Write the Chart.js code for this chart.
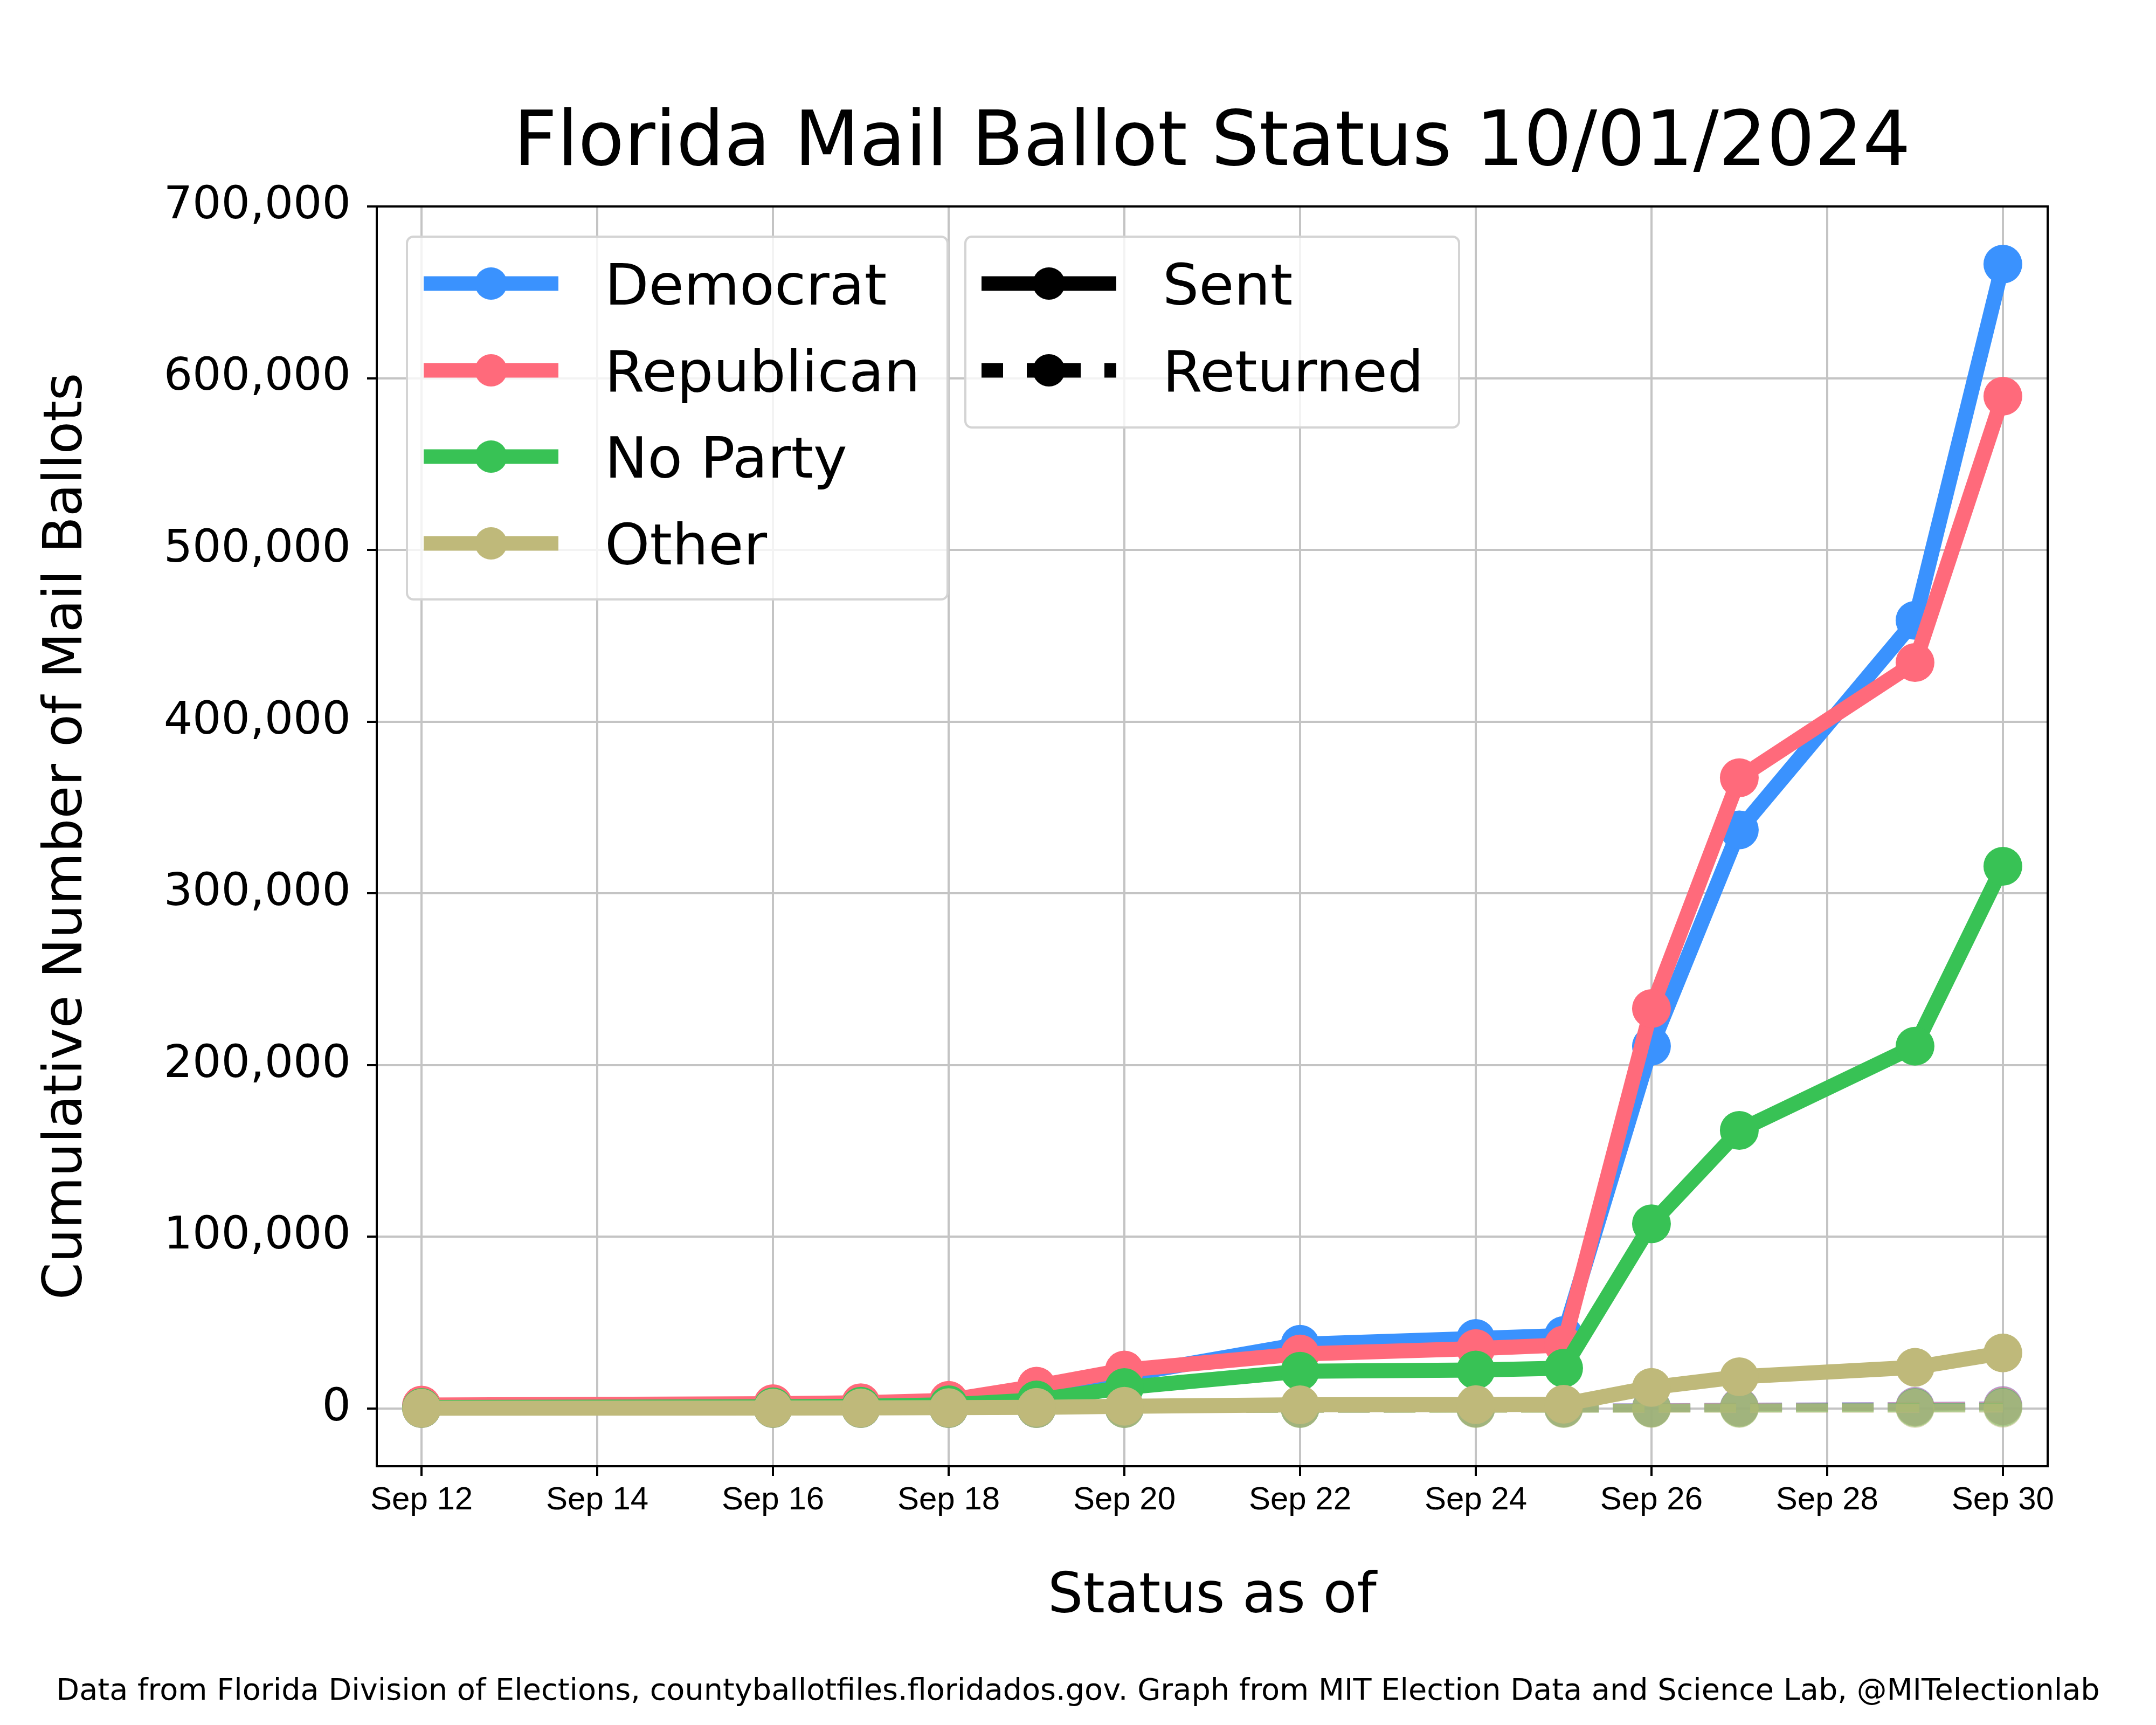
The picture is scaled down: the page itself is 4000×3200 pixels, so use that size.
<!DOCTYPE html>
<html lang="en">
<head>
<meta charset="UTF-8">
<title>Florida Mail Ballot Status 10/01/2024</title>
<script src="https://cdn.jsdelivr.net/npm/chart.js@4.4.1/dist/chart.umd.min.js"></script>
<style>
    html, body { margin: 0; padding: 0; background: #fff; }
    #wrap { width: 4000px; height: 3200px; }
</style>
</head>
<body>
<div id="wrap"><canvas id="ballots" width="4000" height="3200"></canvas></div>
<script>
// Days of September that have a status file
const days = [12, 16, 17, 18, 19, 20, 22, 24, 25, 26, 27, 29, 30];

// Sent (cumulative)
const demSent = [1500, 2300, 2900, 4200, 10000, 19500, 37400, 40800, 42500, 211000, 337000, 459000, 666400];
const repSent = [2000, 2800, 3400, 4800, 13000, 22400, 31800, 34900, 37000, 232900, 367300, 434400, 589500];
const npaSent = [600, 1000, 1300, 2200, 5000, 12200, 21700, 22400, 23500, 107600, 162000, 211000, 315800];
const othSent = [200, 300, 400, 500, 700, 1300, 2200, 2300, 2500, 12300, 18500, 24000, 32400];

// Returned (cumulative)
const demRet = [0, 0, 0, 0, 0, 100, 200, 300, 400, 600, 900, 1300, 1800];
const repRet = [0, 0, 0, 0, 0, 100, 200, 300, 400, 500, 800, 1200, 1600];
const npaRet = [0, 0, 0, 0, 0, 0, 100, 200, 200, 300, 400, 600, 800];
const othRet = [0, 0, 0, 0, 0, 0, 0, 0, 0, 100, 100, 100, 200];

const parties = ['Democrat', 'Republican', 'No Party', 'Other'];
const colors = ['#3a92fe', '#ff6a7b', '#38c255', '#bfb97a'];
const fadedColors = ['rgba(58,146,254,0.55)', 'rgba(255,106,123,0.55)', 'rgba(56,194,85,0.55)', 'rgba(191,185,122,0.55)'];
const xTicks = [12, 14, 16, 18, 20, 22, 24, 26, 28, 30];
const yTicks = [0, 100000, 200000, 300000, 400000, 500000, 600000, 700000];

const titleText = 'Florida Mail Ballot Status 10/01/2024';
const footerText = 'Data from Florida Division of Elections, countyballotfiles.floridados.gov. Graph from MIT Election Data and Science Lab, @MITelectionlab';

function series(label, values, color, order, returned) {
    return {
        label: label,
        data: days.map((d, i) => ({ x: d, y: values[i] })),
        borderColor: color,
        backgroundColor: color,
        pointBackgroundColor: color,
        pointBorderWidth: 0,
        pointRadius: 36,
        pointHoverRadius: 36,
        borderWidth: returned ? 16 : 28,
        borderDash: returned ? [59, 26] : [],
        borderJoinStyle: 'round',
        tension: 0,
        order: order
    };
}

// first dataset in Chart.js is painted on top, so "order" puts Other sent on top
const datasets = [
    series('Democrat sent', demSent, colors[0], 3, false),
    series('Republican sent', repSent, colors[1], 2, false),
    series('No Party sent', npaSent, colors[2], 1, false),
    series('Other sent', othSent, colors[3], 0, false),
    series('Democrat returned', demRet, fadedColors[0], 7, true),
    series('Republican returned', repRet, fadedColors[1], 6, true),
    series('No Party returned', npaRet, fadedColors[2], 5, true),
    series('Other returned', othRet, fadedColors[3], 4, true)
];

function legendBox(ctx, x, y, w, h) {
    ctx.beginPath();
    ctx.roundRect(x, y, w, h, 12);
    ctx.fillStyle = 'rgba(255,255,255,0.8)';
    ctx.fill();
    ctx.strokeStyle = '#d4d4d4';
    ctx.lineWidth = 4;
    ctx.stroke();
}

function legendEntry(ctx, x0, cy, label, color, dashed) {
    ctx.strokeStyle = color;
    ctx.lineWidth = 27;
    ctx.setLineDash(dashed ? [100, 44] : []);
    ctx.lineDashOffset = dashed ? 60 : 0;
    ctx.beginPath();
    ctx.moveTo(x0, cy);
    ctx.lineTo(x0 + 250, cy);
    ctx.stroke();
    ctx.setLineDash([]);
    ctx.fillStyle = color;
    ctx.beginPath();
    ctx.arc(x0 + 125, cy, 30, 0, Math.PI * 2);
    ctx.fill();
    ctx.fillStyle = '#000';
    ctx.font = '106px "DejaVu Sans"';
    ctx.textAlign = 'left';
    ctx.textBaseline = 'alphabetic';
    ctx.fillText(label, x0 + 336, cy + 39);
}

const decorations = {
    id: 'decorations',
    afterDraw(chart) {
        const ctx = chart.ctx;
        const a = chart.chartArea;
        ctx.save();
        // axes frame
        ctx.strokeStyle = '#000';
        ctx.lineWidth = 4;
        ctx.strokeRect(a.left, a.top, a.right - a.left, a.bottom - a.top);

        // title and footer
        ctx.fillStyle = '#000';
        ctx.textAlign = 'center';
        ctx.textBaseline = 'alphabetic';
        ctx.font = '140px "DejaVu Sans"';
        ctx.fillText(titleText, (a.left + a.right) / 2, 306);
        ctx.font = '58px "DejaVu Sans"';
        const fw = ctx.measureText(footerText).width;
        ctx.font = (58 * 3793 / fw).toFixed(1) + 'px "DejaVu Sans"';
        ctx.fillText(footerText, 2000, 3153);

        // party legend
        const rows = [526, 687, 847, 1008];
        legendBox(ctx, 755, 439, 1003, 673);
        parties.forEach((p, i) => legendEntry(ctx, 786, rows[i], p, colors[i], false));

        // status legend
        legendBox(ctx, 1791, 439, 916, 354);
        legendEntry(ctx, 1821, rows[0], 'Sent', '#000', false);
        legendEntry(ctx, 1821, rows[1], 'Returned', '#000', true);
        ctx.restore();
    }
};

const gridOpts = { color: '#c4c4c4', lineWidth: 4, tickColor: '#000', tickLength: 18, tickWidth: 4 };

new Chart(document.getElementById('ballots'), {
    type: 'line',
    data: { datasets: datasets },
    options: {
        responsive: false,
        animation: false,
        events: [],
        layout: { padding: { top: 383, right: 201, bottom: 120, left: 0 } },
        plugins: { legend: { display: false }, tooltip: { enabled: false } },
        scales: {
            x: {
                type: 'linear',
                min: 11.49,
                max: 30.51,
                afterBuildTicks: (s) => { s.ticks = xTicks.map(v => ({ value: v })); },
                afterFit: (s) => { s.height = 360; },
                ticks: {
                    callback: (v) => 'Sep ' + v,
                    font: { family: 'Liberation Sans', size: 60 },
                    color: '#000',
                    padding: 9,
                    maxRotation: 0,
                    autoSkip: false
                },
                grid: gridOpts,
                border: { display: false },
                title: {
                    display: true,
                    text: 'Status as of',
                    font: { family: 'DejaVu Sans', size: 103 },
                    color: '#000',
                    padding: { top: 0, bottom: 54 }
                }
            },
            y: {
                min: -33600,
                max: 700000,
                afterBuildTicks: (s) => { s.ticks = yTicks.map(v => ({ value: v })); },
                afterFit: (s) => { s.width = 699; },
                ticks: {
                    callback: (v) => v.toLocaleString('en-US'),
                    font: { family: 'DejaVu Sans', size: 84 },
                    color: '#000',
                    padding: 30,
                    autoSkip: false
                },
                grid: gridOpts,
                border: { display: false },
                title: {
                    display: true,
                    text: 'Cumulative Number of Mail Ballots',
                    font: { family: 'DejaVu Sans', size: 99 },
                    color: '#000',
                    padding: { top: 66, bottom: 0 }
                }
            }
        }
    },
    plugins: [decorations]
});
</script>
</body>
</html>
